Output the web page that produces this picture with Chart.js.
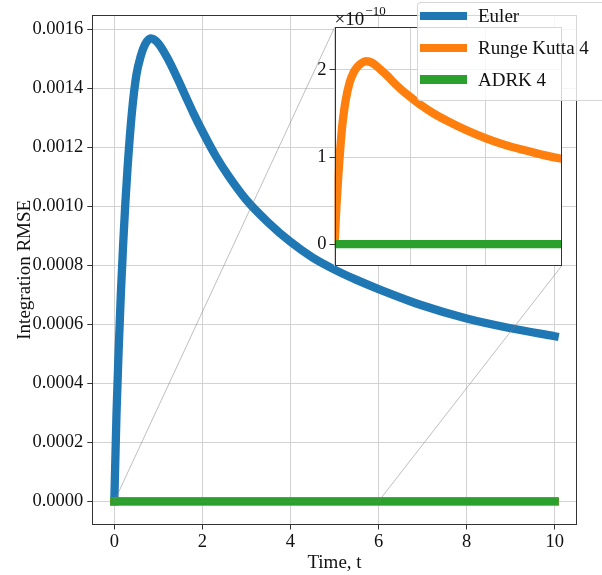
<!DOCTYPE html>
<html><head><meta charset="utf-8">
<script src="https://cdn.jsdelivr.net/npm/chart.js@4.4.1/dist/chart.umd.min.js"></script>
<style>
html,body{margin:0;padding:0;background:#fff;}
#wrap{position:relative;width:602px;height:575px;overflow:hidden;background:#fff;}
#main{position:absolute;left:0;top:0;}
#inset{position:absolute;left:300px;top:0;}
#legend{position:absolute;left:416.5px;top:1.5px;width:230px;height:99px;box-sizing:border-box;border:1px solid rgba(204,204,204,0.8);border-radius:4px;background:rgba(255,255,255,0.8);font-family:'Liberation Serif',serif;font-size:19px;color:#111;}
.sw{position:absolute;left:2.5px;width:47px;height:8.3px;}
.lt{position:absolute;left:60.5px;line-height:22px;height:22px;white-space:nowrap;}
</style></head>
<body><div id="wrap"><canvas id="main" width="602" height="575"></canvas><canvas id="inset" width="270" height="280"></canvas><div id="legend"></div></div>
<script>
// ---- data ----
const times = [0, 0.05, 0.1, 0.15, 0.2, 0.25, 0.3, 0.4, 0.5, 0.6, 0.7, 0.83, 1.0, 1.2, 1.4, 1.6, 1.8, 2.0, 2.3, 2.6, 3.0, 3.5, 4.0, 4.5, 5.0, 5.5, 6.0, 7.0, 8.0, 9.0, 10.0];
const eulerRmse = [0, 0.00030, 0.00052, 0.00071, 0.00087, 0.00101, 0.00113, 0.00132, 0.001445, 0.00151, 0.00155, 0.00157, 0.001553, 0.001505, 0.001445, 0.00138, 0.001315, 0.001255, 0.001172, 0.001102, 0.001022, 0.000945, 0.00088, 0.000827, 0.000786, 0.000751, 0.00072, 0.000664, 0.00062, 0.000587, 0.00056];
const rk4Rmse = [0, 0.45e-10, 0.80e-10, 1.10e-10, 1.35e-10, 1.53e-10, 1.67e-10, 1.86e-10, 1.97e-10, 2.035e-10, 2.075e-10, 2.10e-10, 2.08e-10, 2.01e-10, 1.93e-10, 1.84e-10, 1.76e-10, 1.69e-10, 1.59e-10, 1.505e-10, 1.41e-10, 1.305e-10, 1.215e-10, 1.14e-10, 1.08e-10, 1.025e-10, 0.98e-10, 0.91e-10, 0.85e-10, 0.80e-10, 0.76e-10];
const adrkRmse = [0, 0, 0, 0, 0, 0, 0, 0, 0, 0, 0, 0, 0, 0, 0, 0, 0, 0, 0, 0, 0, 0, 0, 0, 0, 0, 0, 0, 0, 0, 0];
const seriesNames = ['Euler', 'Runge Kutta 4', 'ADRK 4'];
const seriesColors = ['#1f77b4', '#ff7f0e', '#2ca02c'];
const mainXTicks = [0, 2, 4, 6, 8, 10];
const mainYTicks = [0, 0.0002, 0.0004, 0.0006, 0.0008, 0.0010, 0.0012, 0.0014, 0.0016];
const insetXTicks = [0, 2, 4, 6];
const insetYTicks = [0, 1e-10, 2e-10];
const mainXRange = [-0.5, 10.5];
const mainYRange = [-0.0000785, 0.001649];
const insetXRange = [0, 6];
const insetYRange = [-0.25e-10, 2.49e-10];

// ---- styling ----
const serif = 'Liberation Serif';
const gridCol = '#d2d2d2';
const spineCol = '#333';
const textCol = '#111';
const LW = 8.3;
const mkPts = ys => times.map((t, i) => ({x: t, y: ys[i]}));

const spinePlugin = {id: 'spines', afterDraw(c) {
  const a = c.chartArea, ctx = c.ctx;
  ctx.save(); ctx.strokeStyle = spineCol; ctx.lineWidth = 1;
  const l = Math.round(a.left) + 0.5, t = Math.round(a.top) + 0.5;
  const r = Math.round(a.right) - 0.5, b = Math.round(a.bottom) - 0.5;
  ctx.strokeRect(l, t, r - l, b - t);
  ctx.restore();
}};
const whiteBg = {id: 'whiteBg', beforeDraw(c) {
  const a = c.chartArea, ctx = c.ctx;
  ctx.save(); ctx.fillStyle = '#fff'; ctx.fillRect(a.left, a.top, a.right - a.left, a.bottom - a.top); ctx.restore();
}};
const offsetText = {id: 'offsetText', afterDraw(c) {
  const a = c.chartArea, ctx = c.ctx;
  ctx.save(); ctx.fillStyle = textCol; ctx.textBaseline = 'alphabetic'; ctx.textAlign = 'left';
  ctx.font = '19px "' + serif + '"';
  ctx.fillText('\u00d710', a.left, 25);
  const w = ctx.measureText('\u00d710').width;
  ctx.font = '13px "' + serif + '"';
  ctx.fillText('\u221210', a.left + w + 1, 15);
  ctx.restore();
}};

const insetCanvas = document.getElementById('inset');
const insetChart = new Chart(insetCanvas, {
  type: 'line',
  data: {datasets: [
    {label: seriesNames[1], data: mkPts(rk4Rmse), borderColor: seriesColors[1], backgroundColor: seriesColors[1], borderWidth: LW, pointRadius: 0, cubicInterpolationMode: 'monotone', clip: 0, order: 2, borderJoinStyle: 'round'},
    {label: seriesNames[2], data: mkPts(adrkRmse), borderColor: seriesColors[2], backgroundColor: seriesColors[2], borderWidth: LW, pointRadius: 0, cubicInterpolationMode: 'monotone', clip: 0, order: 1}
  ]},
  options: {
    responsive: false, animation: false, events: [],
    layout: {padding: {left: 0, right: 8.3, top: 27.3, bottom: 0}},
    plugins: {legend: {display: false}, tooltip: {enabled: false}},
    scales: {
      x: {type: 'linear', min: insetXRange[0], max: insetXRange[1],
        afterBuildTicks: a => { a.ticks = insetXTicks.map(v => ({value: v})); },
        afterFit: a => { a.height = 12.3; },
        ticks: {display: false}, grid: {color: gridCol, drawTicks: false}, border: {display: false}},
      y: {type: 'linear', min: insetYRange[0], max: insetYRange[1],
        afterBuildTicks: a => { a.ticks = insetYTicks.map(v => ({value: v})); },
        afterFit: a => { a.width = 34.6; },
        ticks: {callback: v => String(Math.round(v / 1e-10)), font: {family: serif, size: 18.5}, color: textCol, padding: 3},
        grid: {color: gridCol, tickColor: spineCol, tickLength: 5}, border: {display: false}}
    }
  },
  plugins: [whiteBg, spinePlugin, offsetText]
});

const connectorPlugin = {id: 'connectors', afterDatasetsDraw(c) {
  const xs = c.scales.x, ys = c.scales.y, ia = insetChart.chartArea, ctx = c.ctx;
  const ox = insetCanvas.offsetLeft, oy = insetCanvas.offsetTop;
  const rx0 = xs.getPixelForValue(insetXRange[0]), rx1 = xs.getPixelForValue(insetXRange[1]);
  const ry0 = ys.getPixelForValue(insetYRange[1]), ry1 = ys.getPixelForValue(insetYRange[0]);
  ctx.save(); ctx.strokeStyle = 'rgba(128,128,128,0.5)'; ctx.lineWidth = 1;
  ctx.strokeRect(rx0, ry0, rx1 - rx0, ry1 - ry0);
  ctx.beginPath();
  ctx.moveTo(rx0, ry0); ctx.lineTo(ia.left + ox, ia.top + oy);
  ctx.moveTo(rx1, ry1); ctx.lineTo(ia.right + ox, ia.bottom + oy);
  ctx.stroke(); ctx.restore();
}};

const mainChart = new Chart(document.getElementById('main'), {
  type: 'line',
  data: {datasets: [
    {label: seriesNames[0], data: mkPts(eulerRmse), borderColor: seriesColors[0], backgroundColor: seriesColors[0], borderWidth: LW, pointRadius: 0, cubicInterpolationMode: 'monotone', order: 3, borderCapStyle: 'square', borderJoinStyle: 'round'},
    {label: seriesNames[1], data: mkPts(rk4Rmse), borderColor: seriesColors[1], backgroundColor: seriesColors[1], borderWidth: LW, pointRadius: 0, cubicInterpolationMode: 'monotone', order: 2, borderCapStyle: 'square'},
    {label: seriesNames[2], data: mkPts(adrkRmse), borderColor: seriesColors[2], backgroundColor: seriesColors[2], borderWidth: LW, pointRadius: 0, cubicInterpolationMode: 'monotone', order: 1, borderCapStyle: 'square'}
  ]},
  options: {
    responsive: false, animation: false, events: [],
    layout: {padding: {left: 0, right: 25.3, top: 10.7, bottom: 0}},
    plugins: {legend: {display: false}, tooltip: {enabled: false}},
    scales: {
      x: {type: 'linear', min: mainXRange[0], max: mainXRange[1],
        afterBuildTicks: a => { a.ticks = mainXTicks.map(v => ({value: v})); },
        afterFit: a => { a.height = 50.5; },
        ticks: {callback: v => String(v), font: {family: serif, size: 18.5}, color: textCol, padding: 2, maxRotation: 0},
        grid: {color: gridCol, tickColor: spineCol, tickLength: 5}, border: {display: false},
        title: {display: true, text: 'Time, t', font: {family: serif, size: 19}, color: textCol, padding: {top: 0, bottom: 1}}},
      y: {type: 'linear', min: mainYRange[0], max: mainYRange[1],
        afterBuildTicks: a => { a.ticks = mainYTicks.map(v => ({value: v})); },
        afterFit: a => { a.width = 92.3; },
        ticks: {callback: v => v.toFixed(4), font: {family: serif, size: 18.5}, color: textCol, padding: 4},
        grid: {color: gridCol, tickColor: spineCol, tickLength: 5}, border: {display: false},
        title: {display: true, text: 'Integration RMSE', font: {family: serif, size: 19}, color: textCol, padding: {top: 13.6, bottom: 0}}}
    }
  },
  plugins: [spinePlugin, connectorPlugin]
});

// ---- legend (built from the series arrays) ----
const legendEl = document.getElementById('legend');
const rowCenters = [13.5, 45.5, 77];
seriesNames.forEach((name, i) => {
  const sw = document.createElement('div');
  sw.className = 'sw'; sw.style.background = seriesColors[i]; sw.style.top = (rowCenters[i] - LW / 2) + 'px';
  const lt = document.createElement('div');
  lt.className = 'lt'; lt.textContent = name; lt.style.top = (rowCenters[i] - 11) + 'px';
  legendEl.appendChild(sw); legendEl.appendChild(lt);
});
</script>
</body></html>
